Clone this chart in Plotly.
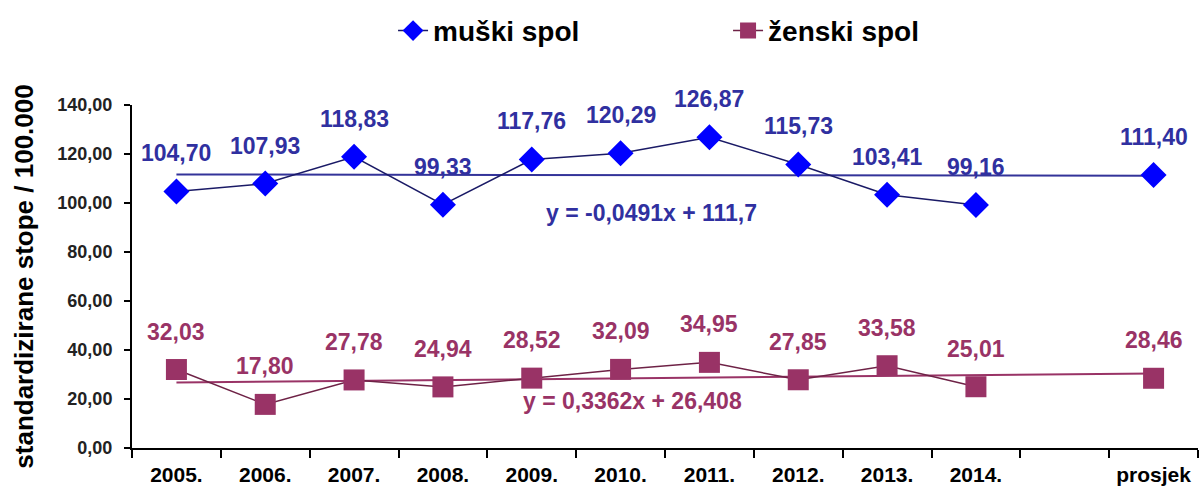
import plotly.graph_objects as go

# Categories: ten years, an empty slot, and the average
categories = ["2005.", "2006.", "2007.", "2008.", "2009.", "2010.",
              "2011.", "2012.", "2013.", "2014.", " ", "prosjek"]

# Standardised rates per 100 000 (None = empty slot)
male = [104.70, 107.93, 118.83, 99.33, 117.76, 120.29,
        126.87, 115.73, 103.41, 99.16, None, 111.40]
female = [32.03, 17.80, 27.78, 24.94, 28.52, 32.09,
          34.95, 27.85, 33.58, 25.01, None, 28.46]

# Linear trend coefficients (y = slope * x + intercept, x = 1..12)
male_trend = (-0.0491, 111.7)
female_trend = (0.3362, 26.408)

male_name = "muški spol"
female_name = "ženski spol"
male_eq = "y = -0,0491x + 111,7"
female_eq = "y = 0,3362x + 26,408"
y_title = "standardizirane stope / 100.000"

FONT = "Arial, Liberation Sans, sans-serif"
BLUE = "#0000FF"
NAVY = "#3030A0"
PLUM = "#993366"


def fmt(v):
    return f"{v:.2f}".replace(".", ",")


def trend(coef):
    a, b = coef
    return [a * (i + 1) + b for i in range(len(categories))]


fig = go.Figure()

# trend lines (under the data)
fig.add_trace(go.Scatter(x=categories, y=trend(male_trend), mode="lines",
                         line=dict(color="#333399", width=2), showlegend=False,
                         hoverinfo="skip"))
fig.add_trace(go.Scatter(x=categories, y=trend(female_trend), mode="lines",
                         line=dict(color=PLUM, width=2), showlegend=False,
                         hoverinfo="skip"))

# data series
fig.add_trace(go.Scatter(x=categories, y=male, mode="lines+markers",
                         name=male_name, connectgaps=False,
                         line=dict(color="#1a1a66", width=1.5),
                         marker=dict(symbol="diamond", size=20, color=BLUE,
                                     line=dict(width=0))))
fig.add_trace(go.Scatter(x=categories, y=female, mode="lines+markers",
                         name=female_name, connectgaps=False,
                         line=dict(color="#6e2246", width=1.5),
                         marker=dict(symbol="square", size=21, color=PLUM,
                                     line=dict(width=0))))

annotations = []
# value labels, placed by category index
for i, v in enumerate(male):
    if v is None:
        continue
    annotations.append(dict(x=i, y=v, text=fmt(v), showarrow=False, yshift=38,
                            font=dict(family=FONT, size=23, color=NAVY,
                                      weight="bold")))
for i, v in enumerate(female):
    if v is None:
        continue
    annotations.append(dict(x=i, y=v, text=fmt(v), showarrow=False, yshift=38,
                            font=dict(family=FONT, size=23, color=PLUM,
                                      weight="bold")))

# trend equations
annotations.append(dict(x=5.35, y=96.1, text=male_eq, showarrow=False,
                        font=dict(family=FONT, size=23, color=NAVY, weight="bold")))
annotations.append(dict(x=5.13, y=19.0, text=female_eq, showarrow=False,
                        font=dict(family=FONT, size=23, color=PLUM, weight="bold")))

fig.update_layout(
    width=1202, height=490,
    margin=dict(l=132, r=4, t=105, b=42),
    paper_bgcolor="white", plot_bgcolor="white",
    separators=",.",
    font=dict(family=FONT, color="black"),
    annotations=annotations,
    legend=dict(orientation="h", xref="container", yref="container",
                x=0.327, xanchor="left", y=0.937, yanchor="middle",
                font=dict(family=FONT, size=28, color="black", weight="bold"),
                itemsizing="trace", entrywidth=290, bgcolor="rgba(0,0,0,0)"),
    xaxis=dict(type="category", categoryorder="array", categoryarray=categories,
               tickson="boundaries", ticks="outside", ticklen=8, tickwidth=2,
               tickcolor="black", showline=True, linecolor="black", linewidth=2,
               showgrid=False, zeroline=False, ticklabelstandoff=7,
               tickangle=0, automargin=False,
               tickfont=dict(family=FONT, size=21, color="black", weight="bold"),
               range=[-0.5, 11.5]),
    yaxis=dict(range=[0, 140], tickvals=[0, 20, 40, 60, 80, 100, 120, 140],
               tickformat=".2f", ticks="outside", ticklen=6, tickwidth=2,
               tickcolor="black", showline=True, linecolor="black", linewidth=2,
               showgrid=False, zeroline=False, ticklabelstandoff=8,
               automargin=False,
               tickfont=dict(family=FONT, size=18, color="#222222", weight="bold"),
               title=dict(text=y_title, standoff=16,
                          font=dict(family=FONT, size=26, color="black",
                                    weight="bold"))),
)

fig.write_html("out.html")
